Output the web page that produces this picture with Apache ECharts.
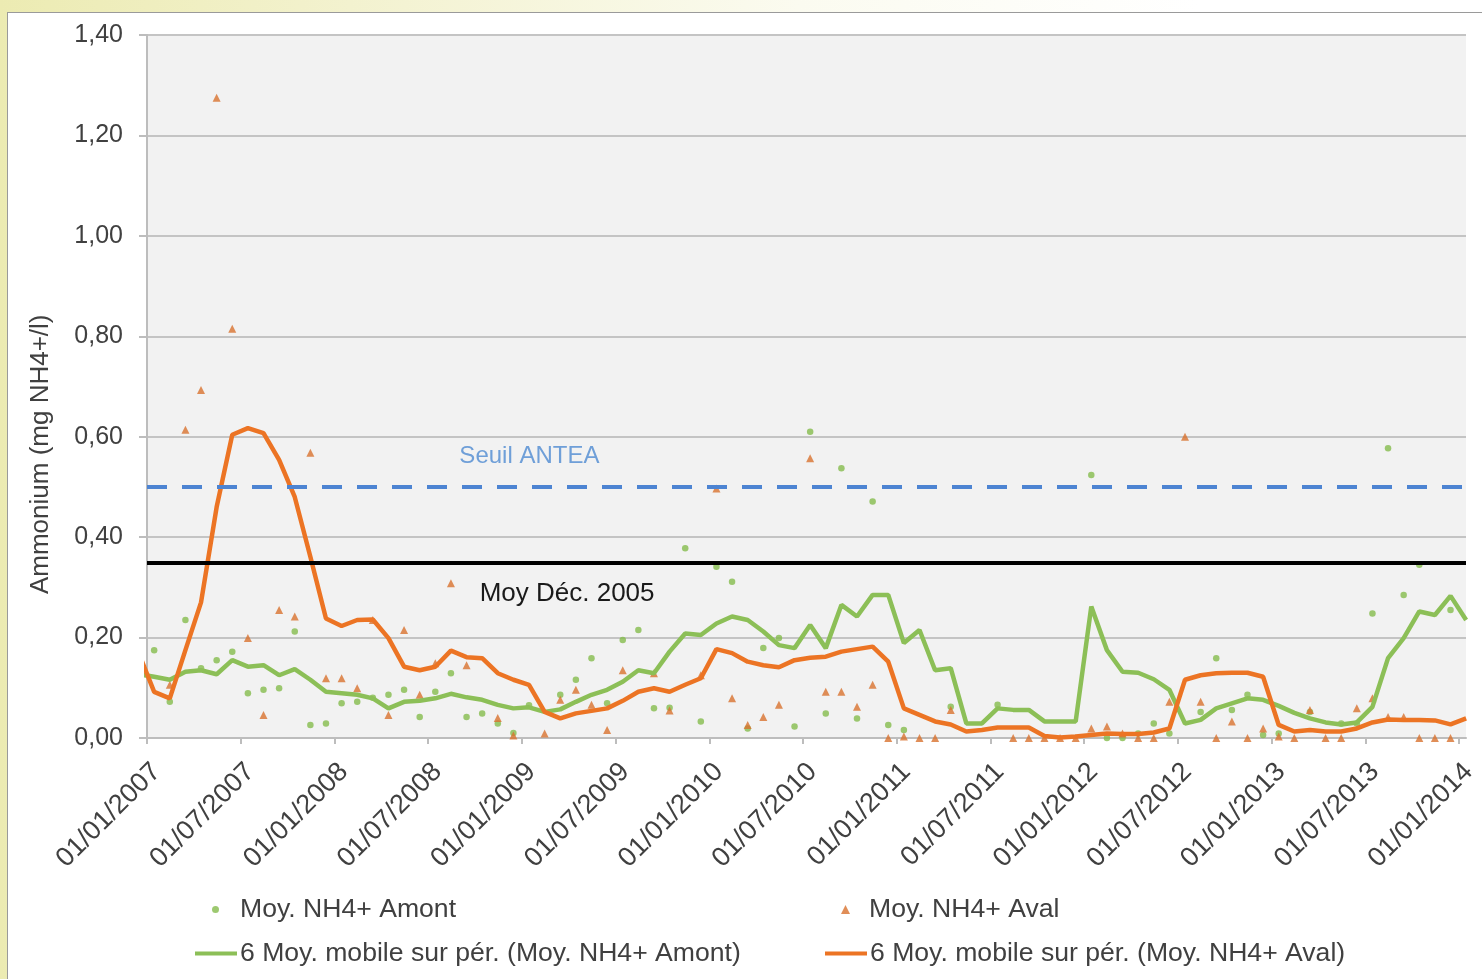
<!DOCTYPE html>
<html>
<head>
<meta charset="utf-8">
<script src="https://cdn.jsdelivr.net/npm/echarts@6/dist/echarts.min.js"></script>
<style>
html, body { margin:0; padding:0; width:1482px; height:979px; overflow:hidden;
  background: linear-gradient(to right, #ecebb2 0, #f3f2cf 350px, #fbfbf0 800px, #ffffff 1200px); }
.frame { position:absolute; left:7px; top:12px; width:1480px; height:975px; background:#fff; border:1px solid #9a9a9a; }
#chart { position:absolute; left:0; top:0; width:1482px; height:979px; }
</style>
</head>
<body>
<div class="frame"></div>
<div id="chart"></div>
<script>
// monthly sampling dates (first one is before the axis start, only used by the moving averages)
var dates = [
  '2006-12-15',
  '2007-01-15','2007-02-15','2007-03-15','2007-04-15','2007-05-15','2007-06-15','2007-07-15','2007-08-15','2007-09-15','2007-10-15','2007-11-15','2007-12-15',
  '2008-01-15','2008-02-15','2008-03-15','2008-04-15','2008-05-15','2008-06-15','2008-07-15','2008-08-15','2008-09-15','2008-10-15','2008-11-15','2008-12-15',
  '2009-01-15','2009-02-15','2009-03-15','2009-04-15','2009-05-15','2009-06-15','2009-07-15','2009-08-15','2009-09-15','2009-10-15','2009-11-15','2009-12-15',
  '2010-01-15','2010-02-15','2010-03-15','2010-04-15','2010-05-15','2010-06-15','2010-07-15','2010-08-15','2010-09-15','2010-10-15','2010-11-15','2010-12-15',
  '2011-01-15','2011-02-15','2011-03-15','2011-04-15','2011-05-15','2011-06-15','2011-07-15','2011-08-15','2011-09-15','2011-10-15','2011-11-15','2011-12-15',
  '2012-01-15','2012-02-15','2012-03-15','2012-04-15','2012-05-15','2012-06-15','2012-07-15','2012-08-15','2012-09-15','2012-10-15','2012-11-15','2012-12-15',
  '2013-01-15','2013-02-15','2013-03-15','2013-04-15','2013-05-15','2013-06-15','2013-07-15','2013-08-15','2013-09-15','2013-10-15','2013-11-15','2013-12-15',
  '2014-01-15'
];

// Moy. NH4+ Amont (mg/l)
var amont = [
  null,
  0.175,0.072,0.235,0.139,0.155,0.172,0.089,0.096,0.099,0.212,0.026,0.029,
  0.069,0.072,0.080,0.086,0.096,0.042,0.092,0.129,0.042,0.049,0.029,0.010,
  0.065,null,0.086,0.116,0.159,0.069,0.195,0.215,0.059,0.060,0.378,0.033,
  0.341,0.311,0.019,0.179,0.199,0.023,0.610,0.049,0.537,0.039,0.471,0.026,
  0.016,null,null,0.062,null,null,0.066,null,null,null,null,null,
  0.524,0.000,0.000,0.009,0.029,0.009,null,0.052,0.159,0.056,0.086,0.006,
  0.009,null,0.052,null,0.029,0.029,0.248,0.577,0.285,0.345,null,0.255,
  0.013
];

// Moy. NH4+ Aval (mg/l)
var aval = [
  null,
  null,0.106,0.614,0.693,1.275,0.815,0.199,0.046,0.255,0.242,0.568,0.119,
  0.119,0.099,0.235,0.046,0.215,0.086,0.149,0.308,0.145,null,0.040,0.005,
  null,0.009,0.076,0.096,0.066,0.016,0.135,null,0.129,0.055,null,0.125,
  0.497,0.079,0.026,0.042,0.066,null,0.557,0.092,0.092,0.062,0.106,0.000,
  0.003,0.000,0.000,0.056,null,null,null,0.000,0.000,0.000,0.000,0.000,
  0.019,0.023,0.009,0.000,0.000,0.072,0.600,0.072,0.000,0.033,0.000,0.019,
  0.003,0.000,0.056,0.000,0.000,0.059,0.079,0.042,0.042,0.000,0.000,0.000,
  0.159
];

// 6 Moy. mobile sur pér. (Moy. NH4+ Amont)
var mmAmont = [
  0.127,
  0.122,0.116,0.132,0.135,0.127,0.155,0.142,0.145,0.125,0.137,0.116,0.092,
  0.089,0.086,0.079,0.059,0.072,0.074,0.079,0.088,0.081,0.076,0.066,0.059,
  0.061,0.052,0.057,0.072,0.086,0.096,0.112,0.135,0.129,0.172,0.208,0.205,
  0.228,0.242,0.235,0.212,0.185,0.179,0.225,0.179,0.265,0.242,0.285,0.285,
  0.189,0.215,0.135,0.139,0.029,0.029,0.059,0.056,0.056,0.033,0.033,0.033,
  0.262,0.175,0.132,0.130,0.117,0.096,0.029,0.036,0.059,0.069,0.079,0.076,
  0.064,0.050,0.039,0.031,0.027,0.031,0.062,0.159,0.199,0.252,0.245,0.283,
  0.235
];

// 6 Moy. mobile sur pér. (Moy. NH4+ Aval)
var mmAval = [
  0.170,
  0.092,0.079,0.175,0.270,0.460,0.604,0.617,0.607,0.554,0.480,0.361,0.238,
  0.223,0.235,0.236,0.199,0.142,0.135,0.142,0.174,0.161,0.159,0.129,0.116,
  0.106,0.052,0.039,0.049,0.054,0.059,0.074,0.092,0.099,0.092,0.106,0.119,
  0.177,0.169,0.152,0.145,0.141,0.155,0.160,0.162,0.172,0.177,0.182,0.152,
  0.059,0.046,0.033,0.027,0.013,0.016,0.021,0.021,0.021,0.004,0.001,0.003,
  0.006,0.009,0.008,0.008,0.011,0.019,0.116,0.125,0.129,0.130,0.130,0.122,
  0.026,0.013,0.016,0.013,0.013,0.019,0.031,0.037,0.036,0.036,0.035,0.027,
  0.039
];

// reference levels
var seuilAntea = 0.50;
var moyDec2005 = 0.348;

var yTicks = [0, 0.2, 0.4, 0.6, 0.8, 1.0, 1.2, 1.4];

var FONT = '"Liberation Sans", Arial, sans-serif';
var TXT = '#404040';
var LEG = 26.6;

// months since 01/01/2007
function monthIndex(d) {
  var p = d.split('-');
  return (+p[0] - 2007) * 12 + (+p[1] - 1) + (+p[2] - 1) / 30.5;
}
function pairs(vals) {
  var out = [];
  for (var i = 0; i < dates.length; i++) {
    if (vals[i] !== null) out.push([monthIndex(dates[i]), vals[i]]);
  }
  return out;
}
function pad(n) { return n < 10 ? '0' + n : '' + n; }

var chart = echarts.init(document.getElementById('chart'));
chart.setOption({
  animation: false,
  textStyle: { fontFamily: FONT },
  grid: { left: 147, right: 16, top: 35, bottom: 241, show: true, backgroundColor: '#f2f2f2', borderWidth: 0 },
  xAxis: {
    type: 'value', min: 0, max: 84.45, interval: 6,
    axisLine: { lineStyle: { color: '#bdbdbd', width: 2 } },
    axisTick: { show: true, length: 6, lineStyle: { color: '#bdbdbd', width: 2 } },
    splitLine: { show: false },
    axisLabel: {
      rotate: 45, margin: 20, fontSize: 27, color: TXT, fontFamily: FONT,
      verticalAlign: 'top',
      showMaxLabel: false,
      formatter: function (v) {
        var m = Math.round(v);
        return '01/' + pad(m % 12 + 1) + '/' + (2007 + Math.floor(m / 12));
      }
    }
  },
  yAxis: {
    type: 'value', min: yTicks[0], max: yTicks[yTicks.length - 1], interval: 0.2,
    axisLine: { show: true, lineStyle: { color: '#bdbdbd', width: 2 } },
    axisTick: { show: true, length: 8, lineStyle: { color: '#bdbdbd', width: 2 } },
    splitLine: { lineStyle: { color: '#c4c4c4', width: 2 } },
    axisLabel: {
      margin: 24, fontSize: 25, color: TXT, fontFamily: FONT,
      formatter: function (v) { return v.toFixed(2).replace('.', ','); }
    }
  },
  legend: [
    { left: 212, top: 896, padding: 0, itemWidth: 7, itemHeight: 7,
      textStyle: { fontSize: LEG, color: TXT, fontFamily: FONT, padding: [0, 0, 0, 16] },
      data: [{ name: 'Moy. NH4+ Amont', icon: 'circle' }] },
    { left: 841, top: 896, padding: 0, itemWidth: 9, itemHeight: 9,
      textStyle: { fontSize: LEG, color: TXT, fontFamily: FONT, padding: [0, 0, 0, 14] },
      data: [{ name: 'Moy. NH4+ Aval', icon: 'triangle' }] },
    { left: 195, top: 940, padding: 0, itemWidth: 42, itemHeight: 4,
      textStyle: { fontSize: LEG, color: TXT, fontFamily: FONT, padding: [0, 0, 0, -2] },
      data: [{ name: '6 Moy. mobile sur pér. (Moy. NH4+ Amont)', icon: 'rect' }] },
    { left: 825, top: 940, padding: 0, itemWidth: 42, itemHeight: 4,
      textStyle: { fontSize: LEG, color: TXT, fontFamily: FONT, padding: [0, 0, 0, -2] },
      data: [{ name: '6 Moy. mobile sur pér. (Moy. NH4+ Aval)', icon: 'rect' }] }
  ],
  series: [
    {
      name: 'Moy. NH4+ Amont', type: 'scatter', symbol: 'circle', symbolSize: 6.5,
      itemStyle: { color: '#84bb4c' }, z: 3,
      data: pairs(amont)
    },
    {
      name: 'Moy. NH4+ Aval', type: 'scatter', symbol: 'triangle', symbolSize: 8,
      itemStyle: { color: '#d8722e' }, z: 3,
      data: pairs(aval)
    },
    {
      name: '6 Moy. mobile sur pér. (Moy. NH4+ Amont)', type: 'line', showSymbol: false,
      lineStyle: { color: '#8cbf57', width: 4.5 }, itemStyle: { color: '#8cbf57' }, z: 4,
      data: pairs(mmAmont),
      markLine: {
        silent: true, symbol: 'none', label: { show: false },
        data: [
          { yAxis: seuilAntea, lineStyle: { color: '#4d84d2', width: 4, type: [20, 15] } },
          { yAxis: moyDec2005, lineStyle: { color: '#000000', width: 4, type: 'solid' } }
        ]
      }
    },
    {
      name: '6 Moy. mobile sur pér. (Moy. NH4+ Aval)', type: 'line', showSymbol: false,
      lineStyle: { color: '#ec7424', width: 4.5 }, itemStyle: { color: '#ec7424' }, z: 4,
      data: pairs(mmAval)
    }
  ]
});

// level captions and axis title, placed in data coordinates
var pSeuil = chart.convertToPixel({ gridIndex: 0 }, [20, 0.56]);
var pMoy = chart.convertToPixel({ gridIndex: 0 }, [21.3, 0.287]);
var pTitle = chart.convertToPixel({ gridIndex: 0 }, [0, 0.565]);
chart.setOption({
  graphic: [
    { type: 'text', x: pSeuil[0], y: pSeuil[1], silent: true,
      style: { text: 'Seuil ANTEA', fontSize: 24, fontFamily: FONT, fill: '#6f9fd8', verticalAlign: 'middle' } },
    { type: 'text', x: pMoy[0], y: pMoy[1], silent: true,
      style: { text: 'Moy Déc. 2005', fontSize: 26, fontFamily: FONT, fill: '#1a1a1a', verticalAlign: 'middle' } },
    { type: 'text', x: 41, y: pTitle[1], rotation: Math.PI / 2, silent: true,
      style: { text: 'Ammonium (mg NH4+/l)', fontSize: 26, fontFamily: FONT, fill: TXT, align: 'center', verticalAlign: 'middle' } }
  ]
});
</script>
</body>
</html>
